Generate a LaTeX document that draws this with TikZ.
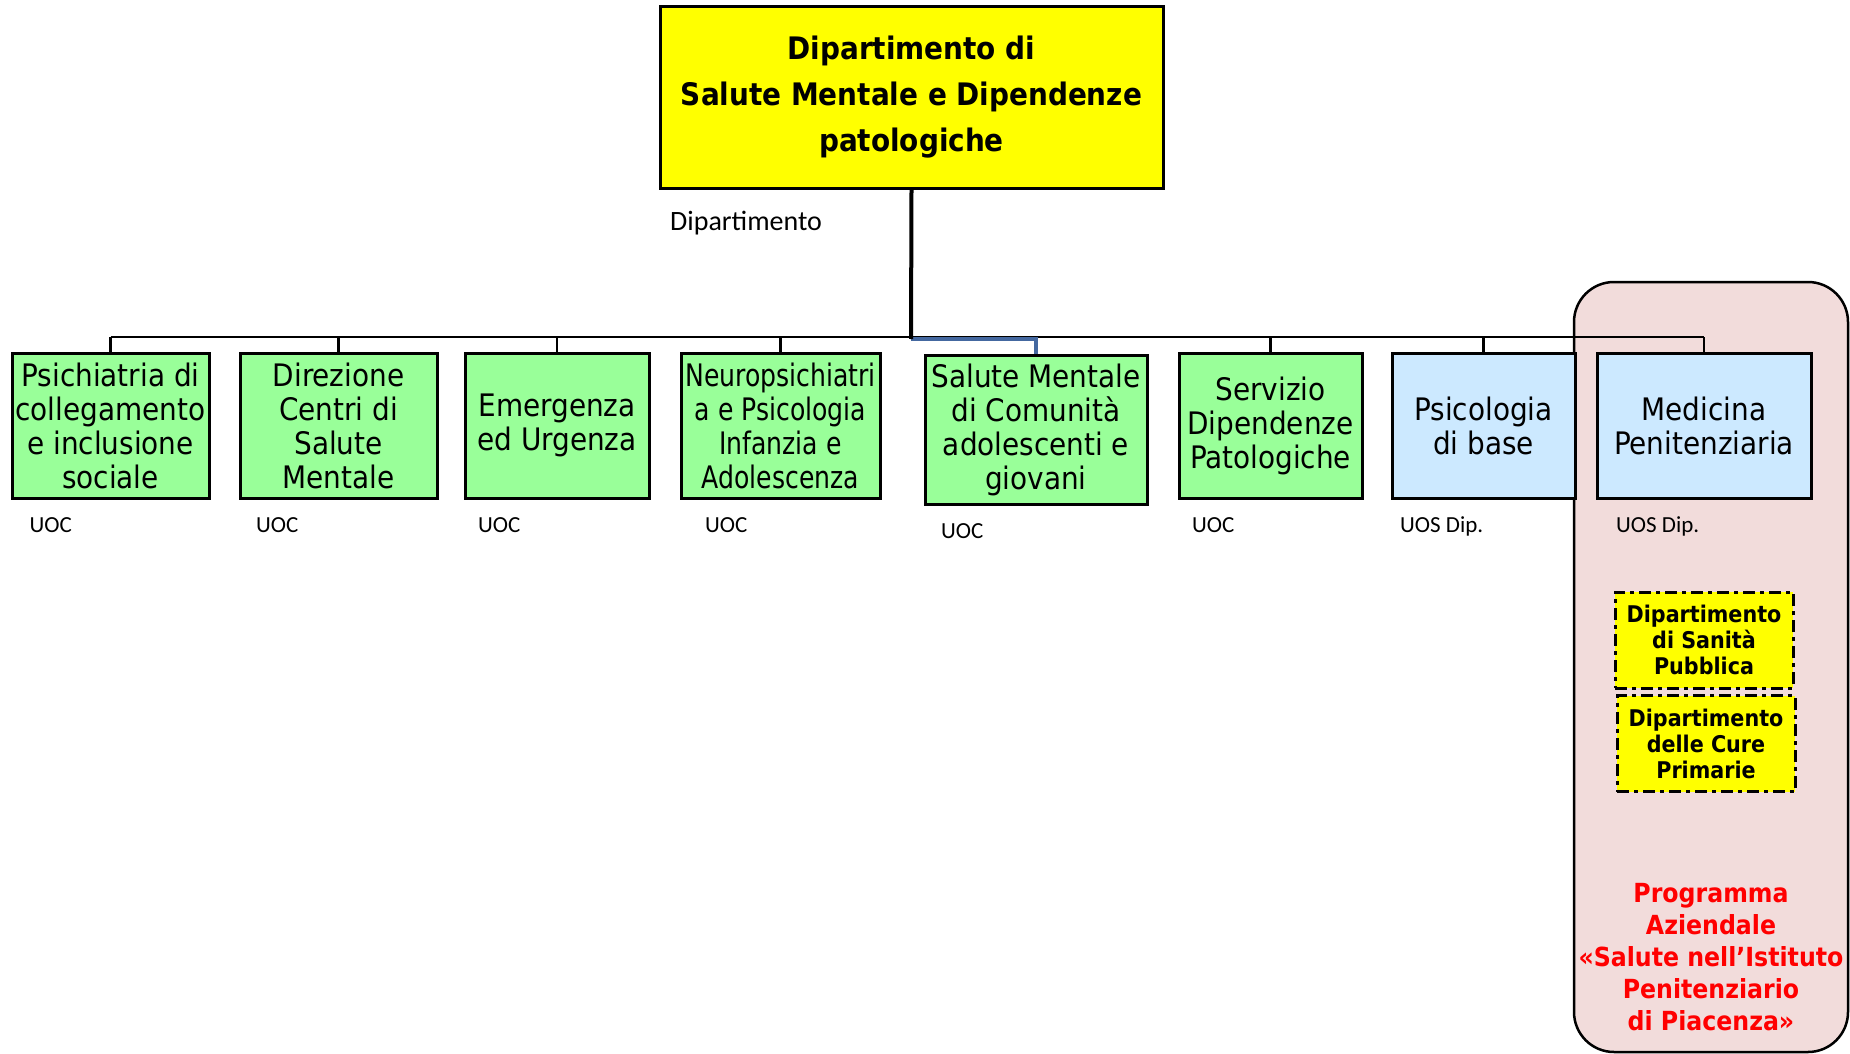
\documentclass[tikz,border=0pt]{standalone}
\usepackage{fontspec}
\newfontfamily\boxfont{DejaVu Sans Condensed}
\newfontfamily\labfont{Carlito}
\definecolor{unitgreen}{RGB}{153,255,153}
\definecolor{unitblue}{RGB}{204,233,255}
\definecolor{panelpink}{RGB}{242,220,219}
\definecolor{deptyellow}{RGB}{255,255,0}
\definecolor{linkblue}{RGB}{68,104,160}
\begin{document}
\begin{tikzpicture}[x=1pt,y=-1pt,
  topbox/.style={draw=black, line width=3pt, fill=deptyellow, inner sep=0pt, align=center,
    minimum width=503pt, minimum height=181pt, font=\boxfont\bfseries\fontsize{31}{46}\selectfont},
  unitbox/.style={draw=black, line width=3pt, inner sep=0pt, align=center,
    minimum height=145pt, font=\boxfont\fontsize{31}{34}\selectfont},
  gbox/.style={unitbox, fill=unitgreen},
  bbox/.style={unitbox, fill=unitblue},
  dashbox/.style={draw=black, line width=3pt, fill=deptyellow, dash pattern=on 12pt off 5pt on 4pt off 5pt,
    inner sep=0pt, align=center, minimum width=178pt, minimum height=96pt,
    font=\boxfont\bfseries\fontsize{23}{26}\selectfont},
  lab/.style={anchor=base west, inner sep=0pt, font=\labfont\fontsize{23}{27}\selectfont},
  conn/.style={draw=black, line width=2.5pt},
  trunkline/.style={draw=black, line width=4pt},
  bluelink/.style={draw=linkblue, line width=4pt}
]
\useasboundingbox (0,0) rectangle (1850,1054);

% panel
\node[draw=black, line width=2.5pt, fill=panelpink, rounded corners=40pt,
  minimum width=274pt, minimum height=770pt, inner sep=0pt] (panel) at (1711,667) {};

% top
\node[topbox] (dsm) at (911.5,97.5) {Dipartimento di\\Salute Mentale e Dipendenze\\patologiche};
\node[lab, font=\labfont\fontsize{28}{32}\selectfont] (dlab) at (670,230) {Dipartimento};

% units
\node[gbox, minimum width=197pt] (b1) at (110.5,425.5) {Psichiatria di\\collegamento\\e inclusione\\sociale};
\node[gbox, minimum width=197pt] (b2) at (338.5,425.5) {Direzione\\Centri di\\Salute\\Mentale};
\node[gbox, minimum width=184pt] (b3) at (557,425.5) {Emergenza\\ed Urgenza};
\node[gbox, minimum width=199pt, font=\boxfont\fontsize{31}{34}\selectfont\addfontfeature{FakeStretch=0.9}] (b4) at (780.5,425.5) {Neuropsichiatri\\a e Psicologia\\Infanzia e\\Adolescenza};
\node[gbox, minimum width=222pt, minimum height=149pt] (b5) at (1036,429.5) {Salute Mentale\\di Comunità\\adolescenti e\\giovani};
\node[gbox, minimum width=183pt] (b6) at (1270.5,425.5) {Servizio\\Dipendenze\\Patologiche};
\node[bbox, minimum width=183pt] (b7) at (1483.5,425.5) {Psicologia\\di base};
\node[bbox, minimum width=214pt] (b8) at (1704,425.5) {Medicina\\Penitenziaria};

% connectors
\coordinate (j) at (911,337);
\coordinate (jb) at (911,339);
\draw[conn] (b1.north |- j) -- (b8.north |- j);
\foreach \b in {b1,b2,b3,b4,b6,b7,b8}{
  \draw[conn] (\b.north) -- (\b.north |- j);
}
\draw[bluelink] (jb) -| (b5.north);
\draw[trunkline] (dsm.south) -- (jb);

% labels
\node[lab] (l1) at (29.5,532) {UOC};
\node[lab] (l2) at (256,532) {UOC};
\node[lab] (l3) at (478,532) {UOC};
\node[lab] (l4) at (705,532) {UOC};
\node[lab] (l5) at (941,538) {UOC};
\node[lab] (l6) at (1192,532) {UOC};
\node[lab] (l7) at (1400,532) {UOS Dip.};
\node[lab] (l8) at (1616,532) {UOS Dip.};

% dashed boxes
\node[dashbox] (dsp) at (1704,640) {Dipartimento\\di Sanità\\Pubblica};
\node[dashbox] (dcp) at (1706,743.5) {Dipartimento\\delle Cure\\Primarie};

% programme
\node[align=center, text=red, inner sep=0pt, font=\boxfont\bfseries\fontsize{26.3}{32}\selectfont] (prog) at (1711,957.5)
  {Programma\\Aziendale\\«Salute nell’Istituto\\Penitenziario\\di Piacenza»};
\end{tikzpicture}
\end{document}
